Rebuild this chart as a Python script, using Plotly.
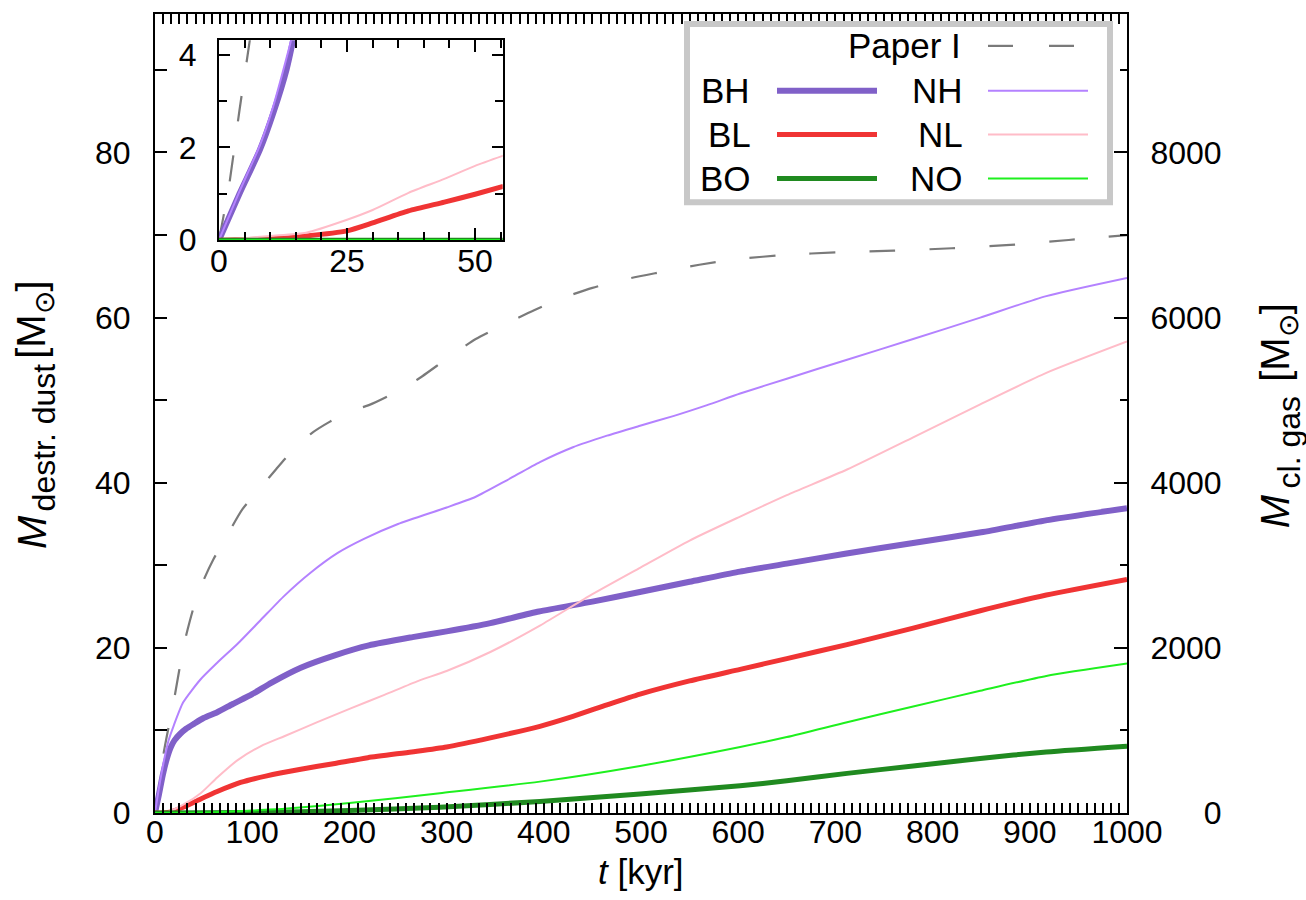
import plotly.graph_objects as go

# ---------------- data ----------------
t_paper1 = [0, 2, 4, 6, 9, 15, 20, 30, 40, 50, 60, 75, 90, 110, 125, 140, 160, 180, 200, 220,
            240, 270, 300, 330, 360, 390, 420, 450, 490, 520, 560, 600, 650, 700, 760, 820,
            880, 940, 1000]
m_paper1 = [0, 1.2, 2.8, 4.3, 7.3, 11.0, 14.0, 20.5, 25.0, 28.2, 30.7, 33.8, 36.8, 39.6, 41.7,
            43.7, 45.9, 47.4, 48.6, 49.4, 50.5, 52.5, 55.0, 57.4, 59.2, 60.9, 62.4, 63.6, 64.8,
            65.5, 66.4, 67.1, 67.6, 67.9, 68.1, 68.4, 68.8, 69.4, 70.0]

t_BH = [0, 4, 8, 12, 16, 20, 26, 32, 40, 50, 64, 80, 100, 120, 150, 185, 220, 265, 300, 345,
        395, 450, 500, 550, 600, 650, 710, 780, 850, 920, 1000]
m_BH = [0, 2.2, 4.6, 6.5, 7.9, 8.8, 9.6, 10.2, 10.8, 11.5, 12.2, 13.2, 14.4, 15.8, 17.6, 19.1,
        20.3, 21.3, 22.0, 23.0, 24.4, 25.6, 26.8, 28.0, 29.2, 30.2, 31.4, 32.7, 34.0, 35.5, 36.9]

t_NH = [0, 4, 9, 14, 19, 29, 47, 64, 85, 109, 133, 160, 188, 215, 250, 300, 330, 362, 396,
        430, 465, 499, 534, 568, 602, 650, 712, 780, 849, 917, 1000]
m_NH = [0, 3.0, 6.2, 8.8, 10.5, 13.4, 16.2, 18.2, 20.5, 23.4, 26.3, 29.1, 31.5, 33.2, 35.0,
        37.0, 38.3, 40.3, 42.5, 44.3, 45.7, 46.9, 48.1, 49.4, 50.8, 52.6, 54.9, 57.4, 60.0,
        62.6, 64.8]

t_BL = [0, 15, 29, 47, 64, 88, 115, 150, 185, 219, 264, 300, 345, 396, 430, 465, 499, 550,
        602, 650, 712, 780, 849, 917, 1000]
m_BL = [0, 0.1, 0.7, 1.7, 2.6, 3.7, 4.5, 5.3, 6.0, 6.7, 7.4, 8.0, 9.1, 10.5, 11.7, 13.1, 14.4,
        16.0, 17.4, 18.7, 20.4, 22.4, 24.5, 26.4, 28.3]

t_NL = [0, 15, 29, 47, 64, 85, 109, 133, 167, 202, 236, 271, 300, 345, 396, 447, 499, 550,
        602, 650, 712, 780, 849, 917, 1000]
m_NL = [0, 0.2, 1.0, 2.4, 4.3, 6.4, 8.1, 9.3, 11.0, 12.7, 14.3, 16.0, 17.2, 19.5, 22.7, 26.3,
        29.7, 33.0, 35.9, 38.5, 41.6, 45.5, 49.5, 53.3, 57.1]

t_BO = [0, 100, 200, 293, 396, 499, 602, 650, 712, 780, 849, 917, 1000]
m_BO = [0, 0.05, 0.3, 0.7, 1.4, 2.3, 3.3, 3.9, 4.8, 5.7, 6.6, 7.4, 8.1]

t_NO = [0, 50, 100, 133, 200, 293, 396, 499, 602, 650, 712, 780, 849, 917, 1000]
m_NO = [0, 0.05, 0.3, 0.5, 1.2, 2.4, 3.8, 5.7, 8.0, 9.2, 11.0, 12.9, 14.8, 16.6, 18.1]

# inset (first ~55 kyr)
ti_paper1 = [0, 2, 4, 6, 7]
mi_paper1 = [0, 1.2, 2.8, 4.3, 5.1]
ti_BH = [0, 4, 8, 10.6, 13.2, 15, 16]
mi_BH = [0, 1.0, 1.95, 2.74, 3.68, 4.6, 5.2]
ti_NH = [0, 4, 8, 10.5, 13, 14.5, 16]
mi_NH = [0, 1.05, 2.05, 2.85, 3.85, 4.5, 5.3]
ti_BL = [0, 10, 17, 25, 30, 37, 44, 50, 55.5]
mi_BL = [0, 0.03, 0.09, 0.2, 0.37, 0.63, 0.82, 0.99, 1.16]
ti_NL = [0, 10, 17, 25, 30, 37, 44, 50, 55.5]
mi_NL = [0, 0.09, 0.16, 0.44, 0.65, 1.02, 1.32, 1.6, 1.82]
ti_BO = [0, 55.5]
mi_BO = [0, 0]
ti_NO = [0, 55.5]
mi_NO = [0, 0.005]

gas_ticks = [0, 2000, 4000, 6000, 8000]

# ---------------- styles ----------------
C_PAPER = "#7a7a7a"
C_BH = "#8060c8"
C_NH = "#b482ff"
C_BL = "#f03434"
C_NL = "#ffbcc8"
C_BO = "#208a20"
C_NO = "#1ef01e"
THICK = 6
THIN = 2
DASH = "26px,34px"
FONT = "Liberation Sans, Arial, sans-serif"

W, H = 1306, 900
L, R, T, B = 155, 1127, 11, 813
PW, PH = R - L, B - T


def fx(x):
    return (x - L) / PW


def fy(y):
    return (B - y) / PH


fig = go.Figure()

main_series = [
    (t_paper1, m_paper1, C_PAPER, 2.2, DASH),
    (t_BH, m_BH, C_BH, THICK, "solid"),
    (t_NH, m_NH, C_NH, THIN, "solid"),
    (t_BL, m_BL, C_BL, THICK - 1, "solid"),
    (t_NL, m_NL, C_NL, THIN, "solid"),
    (t_BO, m_BO, C_BO, THICK - 1, "solid"),
    (t_NO, m_NO, C_NO, THIN, "solid"),
]
for tx, my, c, w, d in main_series:
    fig.add_trace(go.Scatter(x=tx, y=my, mode="lines",
                             line=dict(color=c, width=w, dash=d, shape="spline", smoothing=0.6),
                             showlegend=False, hoverinfo="skip", xaxis="x", yaxis="y"))

# carrier for the right-hand gas-mass axis
fig.add_trace(go.Scatter(x=[0], y=[0], mode="lines", line=dict(width=0), showlegend=False,
                         hoverinfo="skip", xaxis="x", yaxis="y2"))

inset_series = [
    (ti_paper1, mi_paper1, C_PAPER, 2.2, DASH),
    (ti_BH, mi_BH, C_BH, THICK, "solid"),
    (ti_NH, mi_NH, C_NH, THIN, "solid"),
    (ti_BL, mi_BL, C_BL, THICK - 1, "solid"),
    (ti_NL, mi_NL, C_NL, THIN, "solid"),
    (ti_BO, mi_BO, C_BO, THICK - 1, "solid"),
    (ti_NO, mi_NO, C_NO, THIN, "solid"),
]
for tx, my, c, w, d in inset_series:
    fig.add_trace(go.Scatter(x=tx, y=my, mode="lines",
                             line=dict(color=c, width=w, dash=d, shape="spline", smoothing=0.6),
                             showlegend=False, hoverinfo="skip", xaxis="x3", yaxis="y3"))

axis_common = dict(showgrid=False, zeroline=False, showline=True, linecolor="black",
                   linewidth=2, ticks="inside", tickcolor="black", tickwidth=1.5,
                   tickfont=dict(family=FONT, size=32, color="black"))

y_top = 96.77
fig.update_layout(
    width=W, height=H, autosize=False,
    margin=dict(l=L, r=W - R, t=T, b=H - B, pad=0),
    paper_bgcolor="white", plot_bgcolor="white",
    font=dict(family=FONT, size=32, color="black"),
    xaxis=dict(range=[0, 1000], tick0=0, dtick=100, ticklen=10, mirror="allticks",
               ticklabelstandoff=-10,
               minor=dict(dtick=100 / 12, tick0=0, ticklen=5, ticks="inside",
                          tickcolor="black", tickwidth=1.5),
               **axis_common),
    yaxis=dict(range=[0, y_top], tick0=0, dtick=20, ticklen=12, mirror=True,
               ticklabelstandoff=16,
               minor=dict(dtick=10, tick0=0, ticklen=12, ticks="inside",
                          tickcolor="black", tickwidth=1.5),
               **axis_common),
    yaxis2=dict(range=[0, y_top * 100], overlaying="y", side="right", anchor="x",
                tickmode="array", tickvals=gas_ticks,
                ticktext=[f"{v:>4d}".replace(" ", "\u2007") for v in gas_ticks],
                ticklen=13, ticklabelstandoff=15,
                minor=dict(dtick=1000, tick0=0, ticklen=7, ticks="inside",
                           tickcolor="black", tickwidth=1.5),
                **axis_common),
    xaxis3=dict(domain=[fx(219), fx(502.7)], anchor="y3", range=[0, 55.4], tick0=0, dtick=25,
                ticklen=12, mirror="allticks", ticklabelstandoff=-9,
                minor=dict(dtick=5, tick0=0, ticklen=8, ticks="inside",
                           tickcolor="black", tickwidth=1.5),
                **axis_common),
    yaxis3=dict(domain=[fy(238), fy(37.3)], anchor="x3", range=[0, 4.31], tick0=0, dtick=2,
                ticklen=11, mirror="allticks", ticklabelstandoff=14,
                minor=dict(dtick=1, tick0=0, ticklen=8, ticks="inside",
                           tickcolor="black", tickwidth=1.5),
                **axis_common),
)

shapes = []
annotations = []

# legend box
shapes.append(dict(type="rect", xref="paper", yref="paper", x0=fx(687), x1=fx(1110),
                   y0=fy(200), y1=fy(21), line=dict(color="#c8c8c8", width=6),
                   fillcolor="white", layer="above"))


def legend_entry(label, text_right, y, x0, x1, color, width, dash="solid"):
    annotations.append(dict(text=label, x=fx(text_right), y=fy(y), xref="paper", yref="paper",
                            xanchor="right", yanchor="middle", showarrow=False,
                            font=dict(family=FONT, size=35, color="black")))
    shapes.append(dict(type="line", xref="paper", yref="paper", x0=fx(x0), x1=fx(x1),
                       y0=fy(y), y1=fy(y), line=dict(color=color, width=width, dash=dash),
                       layer="above"))


legend_entry("Paper I", 963, 43, 988, 1088, C_PAPER, 2.2, "25px,36px")
legend_entry("BH", 752, 88, 777, 877, C_BH, THICK)
legend_entry("NH", 965, 88, 988, 1088, C_NH, THIN)
legend_entry("BL", 753, 132, 777, 877, C_BL, THICK - 1)
legend_entry("NL", 965, 132, 988, 1088, C_NL, THIN)
legend_entry("BO", 753, 176, 777, 877, C_BO, THICK - 1)
legend_entry("NO", 965, 176, 988, 1088, C_NO, THIN)


def rot(text, x, y, size, italic=False):
    annotations.append(dict(text=text, x=fx(x), y=fy(y), xref="paper", yref="paper",
                            xanchor="center", yanchor="middle", showarrow=False, textangle=-90,
                            font=dict(family=FONT, size=size, color="black",
                                      style="italic" if italic else "normal")))


# left axis title
rot("M", 32, 531, 40, italic=True)
rot("destr. dust", 44, 436, 32)
rot("[M<sub>⊙</sub>]", 34, 318, 40)
# right axis title
rot("M", 1275, 510, 40, italic=True)
rot("cl. gas", 1289, 441, 32)
rot("[M<sub>⊙</sub>]", 1278, 341, 40)

# x axis title
annotations.append(dict(text="<i>t</i> [kyr]", x=fx(641), y=fy(872), xref="paper", yref="paper",
                        xanchor="center", yanchor="middle", showarrow=False,
                        font=dict(family=FONT, size=35, color="black")))

fig.update_layout(shapes=shapes, annotations=annotations)
fig.write_html("out.html")
